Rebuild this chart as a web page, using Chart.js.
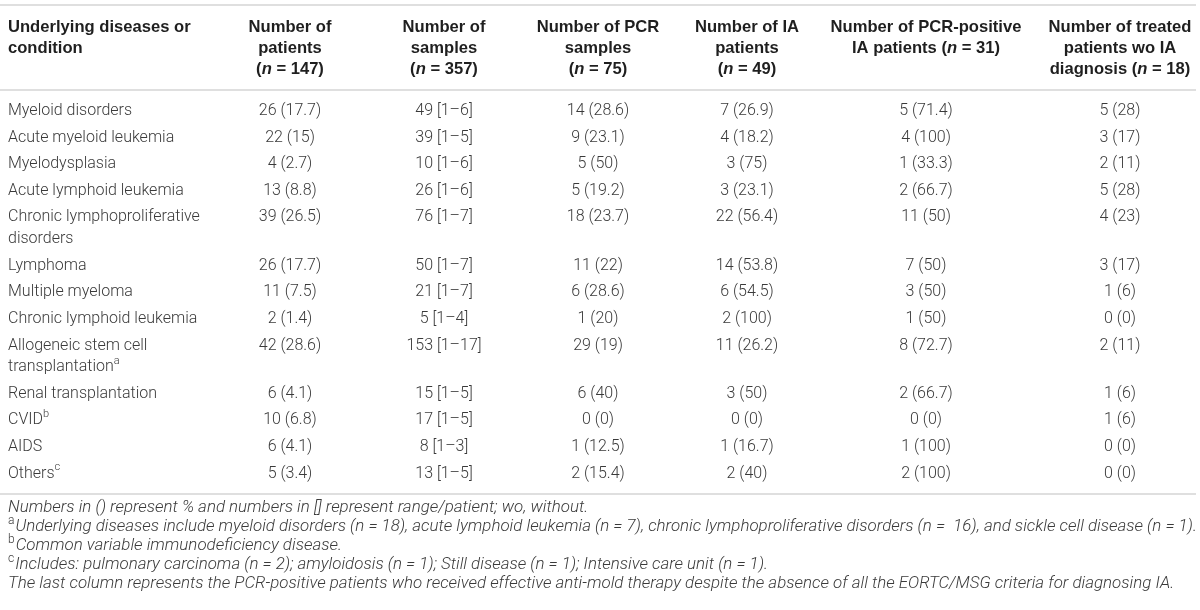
<!DOCTYPE html>
<html lang="en">
<head>
<meta charset="UTF-8">
<title>Underlying diseases or condition</title>
<script src="https://cdn.jsdelivr.net/npm/chart.js@4.4.1/dist/chart.umd.min.js"></script>
<style>
    html, body { margin: 0; padding: 0; background: #fff; }
    #wrap { width: 1200px; height: 610px; }
</style>
</head>
<body>
<div id="wrap"><canvas id="tableChart" width="1200" height="610"></canvas></div>
<script>
// first column (row labels); "\n" marks where the label wraps
const categories = [
    'Myeloid disorders', 'Acute myeloid leukemia', 'Myelodysplasia', 'Acute lymphoid leukemia',
    'Chronic lymphoproliferative\ndisorders', 'Lymphoma', 'Multiple myeloma', 'Chronic lymphoid leukemia',
    'Allogeneic stem cell\ntransplantation', 'Renal transplantation', 'CVID', 'AIDS', 'Others'
];
const categoryNotes = ['', '', '', '', '', '', '', '', 'a', '', 'b', '', 'c'];

// series values
const patients       = [26, 22, 4, 13, 39, 26, 11, 2, 42, 6, 10, 6, 5];
const patientsPct    = [17.7, 15, 2.7, 8.8, 26.5, 17.7, 7.5, 1.4, 28.6, 4.1, 6.8, 4.1, 3.4];
const samples        = [49, 39, 10, 26, 76, 50, 21, 5, 153, 15, 17, 8, 13];
const samplesMin     = [1, 1, 1, 1, 1, 1, 1, 1, 1, 1, 1, 1, 1];
const samplesMax     = [6, 5, 6, 6, 7, 7, 7, 4, 17, 5, 5, 3, 5];
const pcrSamples     = [14, 9, 5, 5, 18, 11, 6, 1, 29, 6, 0, 1, 2];
const pcrSamplesPct  = [28.6, 23.1, 50, 19.2, 23.7, 22, 28.6, 20, 19, 40, 0, 12.5, 15.4];
const iaPatients     = [7, 4, 3, 3, 22, 14, 6, 2, 11, 3, 0, 1, 2];
const iaPatientsPct  = [26.9, 18.2, 75, 23.1, 56.4, 53.8, 54.5, 100, 26.2, 50, 0, 16.7, 40];
const pcrPosIa       = [5, 4, 1, 2, 11, 7, 3, 1, 8, 2, 0, 1, 2];
const pcrPosIaPct    = [71.4, 100, 33.3, 66.7, 50, 50, 50, 50, 72.7, 66.7, 0, 100, 100];
const treatedNoIa    = [5, 3, 2, 5, 4, 3, 1, 0, 2, 1, 1, 0, 0];
const treatedNoIaPct = [28, 17, 11, 28, 23, 17, 6, 0, 11, 6, 6, 0, 0];

// column headers, *x* = italic
const columnHeaders = [
    ['Underlying diseases or', 'condition'],
    ['Number of', 'patients', '(*n* = 147)'],
    ['Number of', 'samples', '(*n* = 357)'],
    ['Number of PCR', 'samples', '(*n* = 75)'],
    ['Number of IA', 'patients', '(*n* = 49)'],
    ['Number of PCR-positive', 'IA patients (*n* = 31)'],
    ['Number of treated', 'patients wo IA', 'diagnosis (*n* = 18)']
];

// footnotes, ^x = superscript
const footnotes = [
    'Numbers in () represent % and numbers in [] represent range/patient; wo, without.',
    '^aUnderlying diseases include myeloid disorders (n = 18), acute lymphoid leukemia (n = 7), chronic lymphoproliferative disorders (n =  16), and sickle cell disease (n = 1).',
    '^bCommon variable immunodeficiency disease.',
    '^cIncludes: pulmonary carcinoma (n = 2); amyloidosis (n = 1); Still disease (n = 1); Intensive care unit (n = 1).',
    'The last column represents the PCR-positive patients who received effective anti-mold therapy despite the absence of all the EORTC/MSG criteria for diagnosing IA.'
];

// layout, in scale units (same as canvas pixels)
const colX = [8, 290, 444, 598, 747, 926, 1120];
const headerY = 27, headerPitch = 21;
const firstRowY = 111, rowPitch = 26.6, wrapPitch = 21.7;
const ruleY = [5, 90, 494];
const ruleRight = 1196;
const noteY = 508, notePitch = 19;

const bodyFont = { n: '300 16px Roboto', it: 'italic 300 16px Roboto', sup: '300 11px Roboto', color: '#3a3a3a' };
const headFont = { n: 'bold 16.6px "Liberation Sans"', it: 'italic bold 16.6px "Liberation Sans"', sup: 'bold 11px "Liberation Sans"', color: '#1f1f1f' };
const noteFont = { n: 'italic 300 16.9px Roboto', it: 'italic 300 16.9px Roboto', sup: '300 12px Roboto', color: '#3a3a3a' };

// y position of each row, extra lines push the following rows down
const rowY = [];
let extra = 0;
categories.forEach((c, i) => {
    rowY.push(firstRowY + i * rowPitch + extra * wrapPitch);
    extra += c.split('\n').length - 1;
});

const fmtPct = (n, p) => n.map((v, i) => v + ' (' + p[i] + ')');
const fmtRange = (n, lo, hi) => n.map((v, i) => v + ' [' + lo[i] + '–' + hi[i] + ']');

const columns = [
    categories.map((c, i) => categoryNotes[i] ? c + '^' + categoryNotes[i] : c),
    fmtPct(patients, patientsPct),
    fmtRange(samples, samplesMin, samplesMax),
    fmtPct(pcrSamples, pcrSamplesPct),
    fmtPct(iaPatients, iaPatientsPct),
    fmtPct(pcrPosIa, pcrPosIaPct),
    fmtPct(treatedNoIa, treatedNoIaPct)
];

function parseRich(s) {
    return s.split(/(\*[^*]+\*|\^[a-z])/).filter(Boolean).map(t => {
        if (t[0] === '*') return { t: t.slice(1, -1), kind: 'it' };
        if (t[0] === '^') return { t: t.slice(1), kind: 'sup' };
        return { t: t, kind: 'n' };
    });
}

function drawRich(ctx, s, x, y, align, f) {
    const segs = parseRich(s);
    let w = 0;
    segs.forEach(sg => { ctx.font = f[sg.kind]; sg.w = ctx.measureText(sg.t).width; w += sg.w; });
    let cx = align === 'center' ? x - w / 2 : x;
    ctx.fillStyle = f.color;
    ctx.textAlign = 'left';
    ctx.textBaseline = 'middle';
    segs.forEach(sg => {
        ctx.font = f[sg.kind];
        ctx.fillText(sg.t, cx, sg.kind === 'sup' ? y - 6 : y);
        cx += sg.w + (sg.kind === 'sup' ? 1 : 0);
    });
}

const tablePlugin = {
    id: 'tableText',
    afterDatasetsDraw(chart) {
        const ctx = chart.ctx;
        const xs = chart.scales.x, ys = chart.scales.y;
        ctx.save();

        // horizontal rules
        ctx.strokeStyle = '#d4d4d4';
        ctx.lineWidth = 1.6;
        ruleY.forEach(v => {
            const py = ys.getPixelForValue(v);
            ctx.beginPath();
            ctx.moveTo(xs.getPixelForValue(0), py);
            ctx.lineTo(xs.getPixelForValue(ruleRight), py);
            ctx.stroke();
        });

        // headers
        columnHeaders.forEach((lines, c) => {
            lines.forEach((ln, k) => {
                drawRich(ctx, ln, xs.getPixelForValue(colX[c]), ys.getPixelForValue(headerY + k * headerPitch),
                    c === 0 ? 'left' : 'center', headFont);
            });
        });

        // cells, placed at the dataset points
        chart.data.datasets.forEach((ds, di) => {
            chart.getDatasetMeta(di).data.forEach((pt, i) => {
                ds.cellText[i].split('\n').forEach((ln, k) => {
                    drawRich(ctx, ln, pt.x, pt.y + k * wrapPitch, di === 0 ? 'left' : 'center', bodyFont);
                });
            });
        });

        // footnotes
        footnotes.forEach((ln, k) => {
            drawRich(ctx, ln, xs.getPixelForValue(colX[0]), ys.getPixelForValue(noteY + k * notePitch), 'left', noteFont);
        });
        ctx.restore();
    }
};

const ctx = document.getElementById('tableChart').getContext('2d');
new Chart(ctx, {
    type: 'scatter',
    data: {
        datasets: columns.map((col, c) => ({
            label: columnHeaders[c].join(' '),
            cellText: col,
            data: col.map((_, i) => ({ x: colX[c], y: rowY[i] })),
            pointRadius: 0,
            pointHoverRadius: 0
        }))
    },
    options: {
        responsive: false,
        animation: false,
        devicePixelRatio: 1,
        layout: { padding: 0 },
        events: [],
        plugins: { legend: { display: false }, tooltip: { enabled: false } },
        scales: {
            x: { type: 'linear', min: 0, max: 1200, display: false },
            y: { type: 'linear', min: 0, max: 610, reverse: true, display: false }
        }
    },
    plugins: [tablePlugin]
});
</script>
</body>
</html>
